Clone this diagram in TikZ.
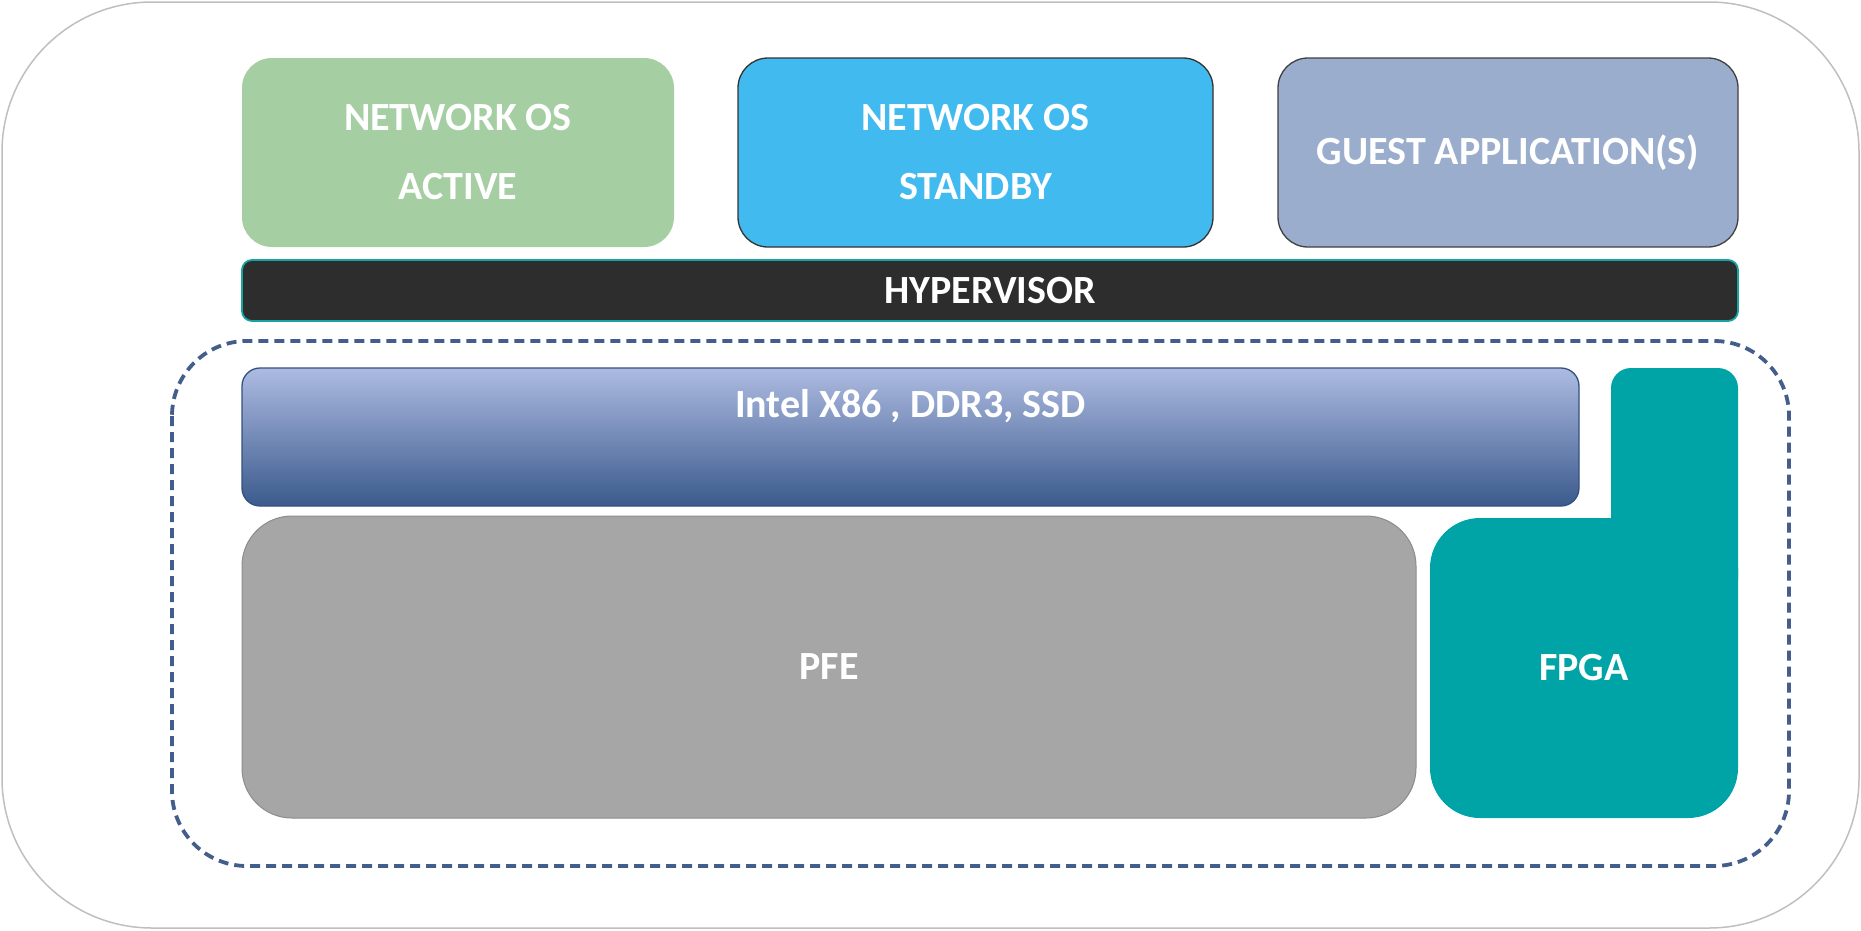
\documentclass[tikz,border=0pt]{standalone}
\usepackage{fontspec}
\setmainfont{Carlito}
\usepackage{tikz}
\usetikzlibrary{positioning}

\definecolor{activegreen}{HTML}{A6CEA3}
\definecolor{standbyblue}{HTML}{41BAF0}
\definecolor{guestblue}{HTML}{9AADCD}
\definecolor{hyperdark}{HTML}{2D2D2D}
\definecolor{hyperedge}{HTML}{15A3A3}
\definecolor{dashblue}{HTML}{445E8C}
\definecolor{inteltop}{HTML}{ADBBE1}
\definecolor{intelmid}{HTML}{909FCA}
\definecolor{intelbot}{HTML}{3B5A8D}
\definecolor{inteledge}{HTML}{34507F}
\definecolor{pfegray}{HTML}{A6A6A6}
\definecolor{pfeedge}{HTML}{8C8C8C}
\definecolor{fpgateal}{HTML}{00A4A6}
\definecolor{outergray}{HTML}{BFBFBF}

\tikzset{
  txt/.style={text=white, font=\fontsize{40}{69}\selectfont\bfseries, align=center},
  vmbox/.style={txt, rounded corners=30pt, minimum width=#1, minimum height=189pt, inner sep=0pt},
}

\begin{document}
\begin{tikzpicture}[x=1pt,y=1pt,yscale=-1,xscale=1]
\useasboundingbox (0,0) rectangle (1861,930);

%Shape: Outer frame
\draw[outergray, line width=1.5pt, rounded corners=150pt] (2,2) rectangle (1859,928);

%Shape: Guest VMs
\node[vmbox=432pt, fill=activegreen] (active) at (458,152.5) {NETWORK OS\\ACTIVE};
\node[vmbox=475pt, fill=standbyblue, draw=black!80, line width=1.3pt] (standby) at (975.5,152.5) {NETWORK OS\\STANDBY};
\node[vmbox=460pt, fill=guestblue, draw=black!75, line width=1.3pt] (guest) at (1508,152.5) {GUEST APPLICATION(S)};

%Shape: Hypervisor bar
\node[txt, fill=hyperdark, draw=hyperedge, line width=1.8pt, rounded corners=10pt,
      minimum width=1496pt, minimum height=61pt, inner sep=0pt] (hyper) at (990,290.5) {HYPERVISOR};

%Shape: Hardware frame (dashed)
\draw[dashblue, line width=3.8pt, dash pattern=on 10pt off 6pt, rounded corners=75pt] (172,341) rectangle (1789,866);

%Shape: CPU block
\node[top color=inteltop, middle color=intelmid, bottom color=intelbot, draw=inteledge, line width=1.3pt,
      rounded corners=18pt, minimum width=1337pt, minimum height=138pt, inner sep=0pt] (intel) at (910.5,437) {};
% Text Node
\node[txt] (intellbl) at (910.5,406) {Intel X86 , DDR3, SSD};

%Shape: Forwarding engine
\node[txt, fill=pfegray, draw=pfeedge, line width=1pt, rounded corners=50pt,
      minimum width=1174pt, minimum height=302pt, inner sep=0pt] (pfe) at (829,667) {PFE};

%Shape: FPGA (step shape)
\fill[fpgateal, rounded corners=20pt] (1611,600) rectangle (1738,368);
\node[txt, fill=fpgateal, rounded corners=50pt,
      minimum width=308pt, minimum height=300pt, inner sep=0pt] (fpga) at (1584,668) {FPGA};
\end{tikzpicture}
\end{document}
